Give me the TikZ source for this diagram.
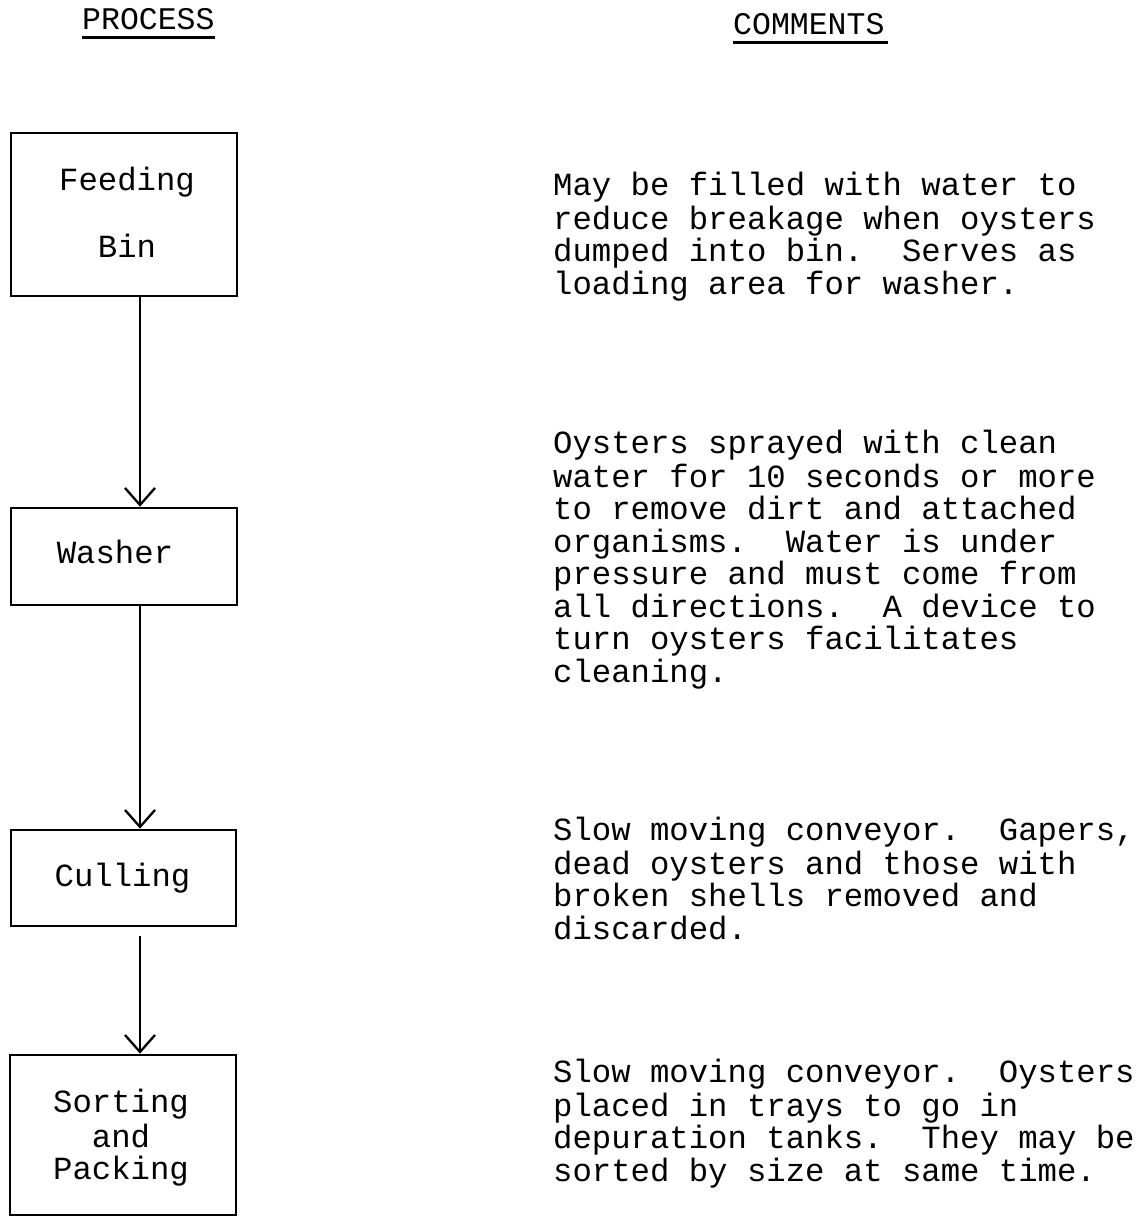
\documentclass[tikz,border=0pt]{standalone}
\usepackage{fontspec}
\setmonofont{Liberation Mono}
\newfontfamily\tw{Liberation Mono}
\usetikzlibrary{arrows.meta}
\frenchspacing
\begin{document}
\begin{tikzpicture}[x=1pt,y=-1pt,
  box/.style={draw, line width=2.6pt, rectangle, inner sep=0pt},
  lbl/.style={font=\tw\fontsize{32.3}{32.5}\selectfont, inner sep=0pt, anchor=north, align=center},
  cmt/.style={font=\tw\fontsize{32.3}{32.5}\selectfont, inner sep=0pt, anchor=north west, align=left},
  hdr/.style={font=\tw\fontsize{31.5}{32}\selectfont, inner sep=0pt, anchor=base west},
  arr/.style={line width=2.3pt, -{Straight Barb[length=17pt,width=30pt,line width=2.3pt]}},
  uline/.style={line width=2.6pt}
]
\useasboundingbox[fill=white] (0,0) rectangle (1145,1217);

% headers
\node[hdr] (hp) at (82,30) {PROCESS};
\node[hdr] (hc) at (733,35) {COMMENTS};
\draw[uline] ([yshift=-7.7pt]hp.base west) -- ([yshift=-7.7pt]hp.base east);
\draw[uline] ([yshift=-7.7pt]hc.base west) -- ([yshift=-7.7pt,xshift=3pt]hc.base east);

% process boxes
\node[box, minimum width=226pt, minimum height=163pt] (fb) at (124,214.5) {};
\node[box, minimum width=226pt, minimum height=97pt] (ws) at (124,556.5) {};
\node[box, minimum width=225pt, minimum height=96pt] (cu) at (123.5,878) {};
\node[box, minimum width=226pt, minimum height=160pt] (sp) at (123,1135) {};

% box labels
\node[lbl] (tfb) at (127,167.25) {\strut Feeding\\[32.5pt]Bin};
\node[lbl] (tws) at (115,540.25) {\strut Washer};
\node[lbl] (tcu) at (122.5,863.25) {\strut Culling};
\node[lbl] (tsp) at (121,1089.25) {\strut Sorting\\and\\Packing};

% connectors
\draw[arr] ([xshift=16pt]fb.south) -- ([xshift=16pt]ws.north);
\draw[arr] ([xshift=16pt]ws.south) -- ([xshift=16.5pt]cu.north);
\draw[arr, shorten <=9pt] ([xshift=16.5pt]cu.south) -- ([xshift=17pt]sp.north);

% comments
\node[cmt] (c1) at (553,171.5) {\strut May be filled with water to\\
reduce breakage when oysters\\
dumped into bin.\ \ Serves as\\
loading area for washer.};
\node[cmt] (c2) at (553,429.5) {\strut Oysters sprayed with clean\\
water for 10 seconds or more\\
to remove dirt and attached\\
organisms.\ \ Water is under\\
pressure and must come from\\
all directions.\ \ A device to\\
turn oysters facilitates\\
cleaning.};
\node[cmt] (c3) at (553,816.5) {\strut Slow moving conveyor.\ \ Gapers,\\
dead oysters and those with\\
broken shells removed and\\
discarded.};
\node[cmt] (c4) at (553,1058.5) {\strut Slow moving conveyor.\ \ Oysters\\
placed in trays to go in\\
depuration tanks.\ \ They may be\\
sorted by size at same time.};
\end{tikzpicture}
\end{document}
